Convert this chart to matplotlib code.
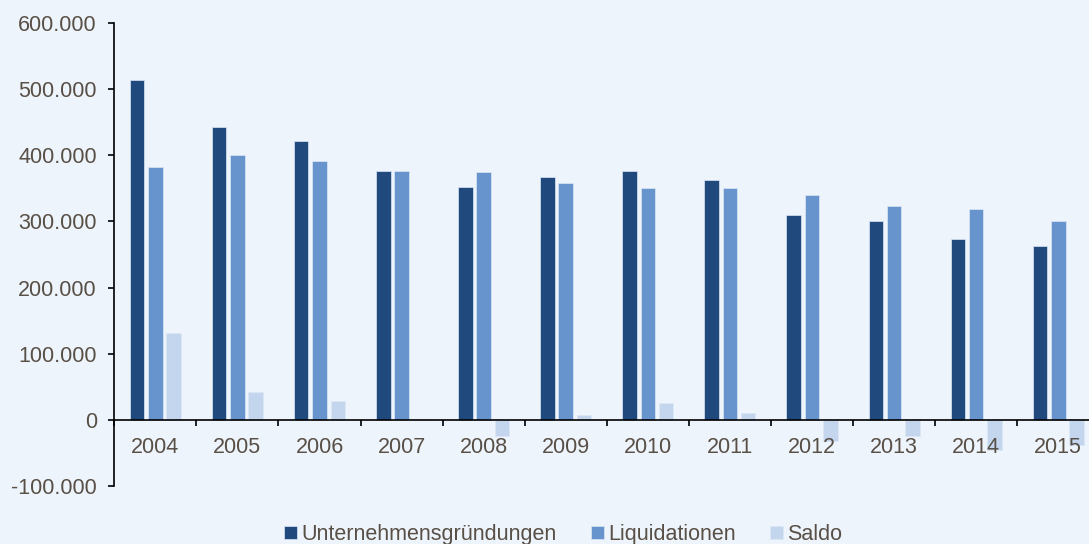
import numpy as np
import matplotlib
matplotlib.use("Agg")
import matplotlib.pyplot as plt
from matplotlib.ticker import FuncFormatter, FixedLocator

years = ["2004", "2005", "2006", "2007", "2008", "2009",
         "2010", "2011", "2012", "2013", "2014", "2015"]
gruendungen = [514000, 443000, 421000, 376000, 352000, 367000,
               376000, 363000, 309000, 301000, 274000, 263000]
liquidationen = [383000, 401000, 392000, 376000, 374000, 358000,
                 350000, 351000, 340000, 324000, 319000, 300000]
saldo = [131000, 42000, 29000, 0, -24000, 8000,
         25000, 10000, -32000, -24000, -46000, -38000]

series = [
    ("Unternehmensgründungen", gruendungen, "#204a7e"),
    ("Liquidationen", liquidationen, "#6794cd"),
    ("Saldo", saldo, "#c3d6ee"),
]

plt.rcParams["font.family"] = ["Liberation Sans", "DejaVu Sans"]
text_color = "#584f46"
bg = "#eef4fb"
fs = 15.5

fig = plt.figure(figsize=(10.89, 5.44), dpi=100, facecolor=bg)
ax = fig.add_axes([114.3 / 1089, 1 - 486 / 544, 985 / 1089, 463 / 544])
ax.set_facecolor(bg)
ax.set_axisbelow(False)

x = np.arange(len(years))
width = 0.177
step = 0.223
for i, (name, vals, col) in enumerate(series):
    ax.bar(x + (i - 1) * step, vals, width=width, color=col,
           edgecolor="#dce7f5", linewidth=0.5, label=name, zorder=2)

ax.set_xlim(-0.5, len(years) - 0.5)
ax.set_ylim(-100000, 600000)
ax.set_yticks(np.arange(-100000, 600001, 100000))
ax.yaxis.set_major_formatter(
    FuncFormatter(lambda v, p: f"{int(v):,}".replace(",", ".")))

# category labels centred, ticks at the boundaries
ax.xaxis.set_major_locator(FixedLocator(np.arange(len(years) + 1) - 0.5))
ax.xaxis.set_major_formatter(FuncFormatter(lambda v, p: ""))
ax.set_xticks(x, years, minor=True)

for s in ["top", "right"]:
    ax.spines[s].set_visible(False)
ax.spines["bottom"].set_position(("data", 0))
ax.spines["bottom"].set_linewidth(1.2)
ax.spines["left"].set_linewidth(1.2)
ax.spines["left"].set_bounds(-100000, 600000)

ax.tick_params(axis="y", direction="out", length=4.5, width=1.2,
               pad=8, labelsize=fs, labelcolor=text_color)
ax.tick_params(axis="x", which="major", direction="out", length=4.5,
               width=1.2)
ax.tick_params(axis="x", which="minor", length=0, pad=12,
               labelsize=fs, labelcolor=text_color)

leg = fig.legend(loc="center", bbox_to_anchor=(0.517, 0.017), ncol=3,
                 frameon=False, fontsize=fs, handlelength=0.6,
                 handleheight=0.6, handletextpad=0.2, columnspacing=1.6)
for t in leg.get_texts():
    t.set_color(text_color)

fig.savefig("out.png", dpi=100, facecolor=bg)
